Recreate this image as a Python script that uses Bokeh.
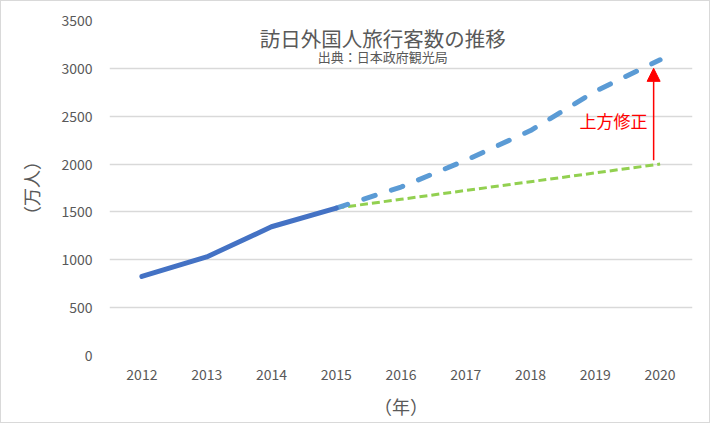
from bokeh.plotting import figure
from bokeh.models import Range1d, FixedTicker, Label, Arrow, NormalHead
from bokeh.embed import file_html
from bokeh.resources import INLINE

# data
years_actual = [2012, 2013, 2014, 2015]
visitors_actual = [826, 1030, 1345, 1540]
years_proj = [2015, 2016, 2017, 2018, 2019, 2020]
visitors_revised = [1540, 1760, 2040, 2350, 2760, 3090]
visitors_original = [1540, 1632, 1724, 1816, 1908, 2000]
x_ticks = [2012, 2013, 2014, 2015, 2016, 2017, 2018, 2019, 2020]
y_ticks = [0, 500, 1000, 1500, 2000, 2500, 3000, 3500]
title_text = "訪日外国人旅行客数の推移"
subtitle_text = "出典：日本政府観光局"
annotation_text = "上方修正"
arrow_x = 2019.9
arrow_from = 2040
arrow_to = 3000

JP = "Noto Sans CJK JP"
GRAY = "#595959"

p = figure(width=710, height=423, output_backend="svg", toolbar_location=None,
           x_range=Range1d(2011.5, 2020.5), y_range=Range1d(0, 3500),
           min_border_left=108, min_border_right=19, min_border_top=19, min_border_bottom=69)
p.styles = {"border": "1px solid #d9d9d9"}
p.outline_line_color = None
p.background_fill_color = "white"
p.border_fill_color = "white"

p.xgrid.visible = False
p.ygrid.grid_line_color = "#d9d9d9"
p.ygrid.grid_line_width = 1.5

p.xaxis.ticker = FixedTicker(ticks=x_ticks)
p.yaxis.ticker = FixedTicker(ticks=y_ticks)
for ax in (p.xaxis, p.yaxis):
    ax.axis_line_color = None
    ax.major_tick_line_color = None
    ax.minor_tick_line_color = None
    ax.major_label_text_font = JP
    ax.major_label_text_font_size = "14px"
    ax.major_label_text_color = GRAY
    ax.axis_label_text_font = JP
    ax.axis_label_text_font_size = "18px"
    ax.axis_label_text_color = GRAY
    ax.axis_label_text_font_style = "normal"
p.yaxis.major_label_standoff = 11
p.xaxis.major_label_standoff = 7
p.xaxis.axis_label = "（年）"
p.yaxis.axis_label = "（万人）"
p.xaxis.axis_label_standoff = 10
p.yaxis.axis_label_standoff = 14

p.line(years_proj, visitors_original, line_color="#92D050", line_width=3, line_dash="8 4")
p.line(years_proj, visitors_revised, line_color="#5B9BD5", line_width=5, line_dash="12 17", line_cap="round")
p.line(years_actual, visitors_actual, line_color="#4472C4", line_width=5, line_cap="round", line_join="round")

p.add_layout(Arrow(end=NormalHead(size=13, fill_color="red", line_color="red"),
                   x_start=arrow_x, y_start=arrow_from, x_end=arrow_x, y_end=arrow_to,
                   line_color="red", line_width=1.5))

p.add_layout(Label(x=2019.28, y=2460, text=annotation_text, text_font=JP, text_font_size="17px",
                   text_color="red", text_align="center", text_baseline="middle"))
p.add_layout(Label(x=2015.72, y=3320, text=title_text, text_font=JP, text_font_size="20.5px",
                   text_color=GRAY, text_align="center", text_baseline="middle"))
p.add_layout(Label(x=2015.72, y=3128, text=subtitle_text, text_font=JP, text_font_size="13px",
                   text_color=GRAY, text_align="center", text_baseline="middle"))

open("out.html", "w").write(file_html(p, INLINE))
